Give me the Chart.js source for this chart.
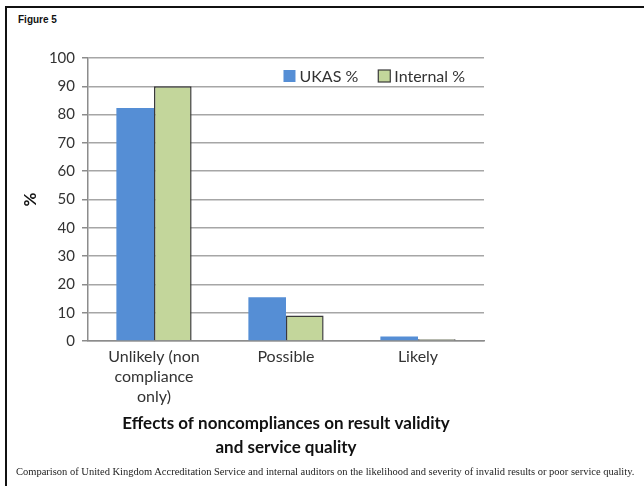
<!DOCTYPE html>
<html>
<head>
<meta charset="utf-8">
<script src="https://cdn.jsdelivr.net/npm/chart.js@4"></script>
<style>
  html, body { margin: 0; padding: 0; background: #fff; }
  #wrap { position: relative; width: 644px; height: 486px; overflow: hidden; }
  #frame { position: absolute; left: 5px; top: 6px; right: -10px; bottom: -10px;
           border-top: 2px solid #111; border-left: 2px solid #111; }
  #fig { position: absolute; left: 18px; top: 14px; font: bold 10px "Liberation Sans", Arial, sans-serif; color: #111; }
  #caption { position: absolute; left: 16px; top: 466px; font: 10.5px "Liberation Serif", "Times New Roman", serif; color: #222; white-space: nowrap; }
  #chartBox { position: absolute; left: 0; top: 0; width: 644px; height: 486px; }
</style>
</head>
<body>
<div id="wrap">
  <div id="frame"></div>
  <div id="fig">Figure 5</div>
  <div id="chartBox"><canvas id="effectsChart" width="644" height="486"></canvas></div>
  <div id="caption">Comparison of United Kingdom Accreditation Service and internal auditors on the likelihood and severity of invalid results or poor service quality.</div>
</div>
<script>
const categories = [['Unlikely (non', 'compliance', 'only)'], 'Possible', 'Likely'];
const ukasPct = [82.3, 15.5, 1.6];
const internalPct = [90, 9, 0.6];
const yTicks = [0, 10, 20, 30, 40, 50, 60, 70, 80, 90, 100];

const fontFamily = 'Lato, "Open Sans", sans-serif';

// legend sits inside the plot, top right, like the spreadsheet original
const insideLegend = {
  id: 'insideLegend',
  afterDraw(chart) {
    const { ctx, chartArea } = chart;
    const box = 12, gap = 4, itemGap = 20;
    ctx.save();
    ctx.font = `16px ${fontFamily}`;
    ctx.textBaseline = 'middle';
    const items = chart.data.datasets.map(ds => ({ ds, w: ctx.measureText(ds.label).width }));
    const total = items.reduce((s, it) => s + box + gap + it.w, 0) + itemGap * (items.length - 1);
    let x = chartArea.right - 19 - total;
    const cy = chartArea.top + 18;
    items.forEach(({ ds, w }) => {
      ctx.fillStyle = ds.backgroundColor;
      ctx.fillRect(x, cy - box / 2, box, box);
      if (ds.borderWidth) {
        ctx.lineWidth = 1.2;
        ctx.strokeStyle = ds.borderColor;
        ctx.strokeRect(x, cy - box / 2, box, box);
      }
      ctx.fillStyle = '#333';
      ctx.fillText(ds.label, x + box + gap, cy + 1);
      x += box + gap + w + itemGap;
    });
    ctx.restore();
  }
};

new Chart(document.getElementById('effectsChart'), {
  type: 'bar',
  data: {
    labels: categories,
    datasets: [
      {
        label: 'UKAS %',
        data: ukasPct,
        backgroundColor: '#558ed5',
        borderWidth: 0
      },
      {
        label: 'Internal %',
        data: internalPct,
        backgroundColor: '#c3d69b',
        borderColor: '#3a3a3a',
        borderWidth: 1.5
      }
    ]
  },
  options: {
    responsive: false,
    animation: false,
    layout: { padding: { left: 16, right: 160, top: 58, bottom: 26 } },
    datasets: { bar: { categoryPercentage: 0.57, barPercentage: 1.0 } },
    plugins: {
      tooltip: { enabled: false },
      legend: { display: false }
    },
    scales: {
      x: {
        grid: { display: false, drawTicks: false },
        border: { color: '#8c8c8c', width: 1.5 },
        ticks: { color: '#333', font: { family: fontFamily, size: 16, lineHeight: 1.25 }, padding: 6, maxRotation: 0 },
        title: {
          display: true,
          text: ['Effects of noncompliances on result validity', 'and service quality'],
          color: '#111',
          font: { family: fontFamily, size: 17, weight: 'bold', lineHeight: 1.45 },
          padding: { top: 4, bottom: 0 }
        },
        afterFit: (scale) => { scale.height = 119; }
      },
      y: {
        min: 0,
        max: 100,
        afterBuildTicks: (scale) => { scale.ticks = yTicks.map(v => ({ value: v })); },
        grid: { color: '#a6a6a6', lineWidth: 1.5, tickLength: 6, tickColor: '#8c8c8c' },
        border: { color: '#8c8c8c', width: 1.5 },
        ticks: { color: '#333', font: { family: fontFamily, size: 15 }, padding: 7 },
        title: {
          display: true,
          text: '%',
          color: '#111',
          font: { family: fontFamily, size: 17, weight: 'bold' },
          padding: 4
        },
        afterFit: (scale) => { scale.width = 72; }
      }
    }
  },
  plugins: [insideLegend]
});
</script>
</body>
</html>
